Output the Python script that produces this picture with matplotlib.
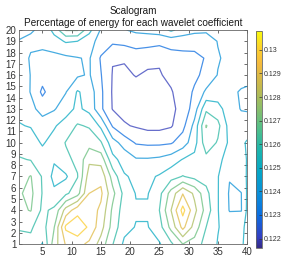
import numpy as np
import matplotlib.pyplot as plt
from matplotlib.colors import LinearSegmentedColormap, Normalize
import matplotlib.cm as cm

plt.rcParams['font.family'] = ['Liberation Sans', 'DejaVu Sans']

# wavelet coefficient index (x) and scale (y) where the energy was read
x_coef = [1, 3, 5, 7, 9, 11, 13, 15, 17, 19, 21, 23, 25, 27, 29, 31, 33, 35, 37, 39, 40]
y_scale = [20, 19, 17.5, 16, 14.5, 13, 11.5, 10, 8.5, 7, 5.5, 4, 2.5, 1]

# percentage of energy, rows follow y_scale (top to bottom)
energy = [
    [0.1237, 0.1239, 0.1242, 0.1253, 0.1271, 0.1271, 0.1253, 0.1239, 0.1237, 0.12395, 0.1242, 0.1243, 0.1245, 0.1252, 0.1246, 0.1243, 0.1242, 0.1243, 0.1244, 0.1244, 0.1244],
    [0.12405, 0.1242, 0.1243, 0.1246, 0.1251, 0.1250, 0.1244, 0.1236, 0.1232, 0.1233, 0.1234, 0.1234, 0.1233, 0.1234, 0.1234, 0.1233, 0.1234, 0.12405, 0.1243, 0.1244, 0.1244],
    [0.1245, 0.1239, 0.1237, 0.1237, 0.1238, 0.12395, 0.1241, 0.1229, 0.12205, 0.1221, 0.1225, 0.1223, 0.12215, 0.1226, 0.1227, 0.1228, 0.12305, 0.1239, 0.1243, 0.1244, 0.1244],
    [0.12502, 0.12395, 0.1234, 0.1235, 0.1237, 0.12385, 0.1241, 0.12305, 0.12195, 0.1218, 0.12205, 0.12185, 0.1219, 0.1223, 0.1226, 0.12285, 0.1232, 0.12405, 0.1243, 0.1244, 0.1244],
    [0.1247, 0.12395, 0.1228, 0.1236, 0.12395, 0.1251, 0.1246, 0.1232, 0.1219, 0.1217, 0.1216, 0.1216, 0.1217, 0.1219, 0.1226, 0.1231, 0.1242, 0.1244, 0.12425, 0.1239, 0.1238],
    [0.1248, 0.1243, 0.1236, 0.1239, 0.1246, 0.1252, 0.1247, 0.1232, 0.12195, 0.1217, 0.1216, 0.1216, 0.12165, 0.1218, 0.1223, 0.1235, 0.1258, 0.1254, 0.1244, 0.12395, 0.1239],
    [0.12505, 0.12495, 0.1245, 0.1249, 0.1254, 0.1261, 0.1259, 0.1248, 0.1229, 0.1221, 0.1219, 0.1217, 0.1217, 0.1219, 0.1227, 0.1243, 0.12705, 0.1263, 0.1246, 0.1244, 0.1245],
    [0.1255, 0.1254, 0.1249, 0.12535, 0.12605, 0.1270, 0.1266, 0.1261, 0.1244, 0.1236, 0.1229, 0.1228, 0.1228, 0.1229, 0.1235, 0.1246, 0.1266, 0.1259, 0.1248, 0.1248, 0.1251],
    [0.1261, 0.12595, 0.1254, 0.1251, 0.1258, 0.1262, 0.1278, 0.1276, 0.1253, 0.1246, 0.1241, 0.1241, 0.1242, 0.1245, 0.12505, 0.1253, 0.1257, 0.1253, 0.1245, 0.1246, 0.12505],
    [0.1266, 0.12705, 0.1259, 0.1247, 0.12485, 0.12595, 0.1285, 0.1287, 0.1266, 0.1251, 0.1248, 0.1248, 0.1251, 0.1256, 0.12605, 0.1257, 0.1256, 0.12505, 0.12405, 0.1244, 0.1251],
    [0.1269, 0.12725, 0.12595, 0.1252, 0.1258, 0.1266, 0.1290, 0.1292, 0.1273, 0.1257, 0.12495, 0.12495, 0.1257, 0.1274, 0.12895, 0.1278, 0.1263, 0.12505, 0.1239, 0.12398, 0.1251],
    [0.1268, 0.12705, 0.1258, 0.1262, 0.1284, 0.1296, 0.1295, 0.1288, 0.1268, 0.1255, 0.1251, 0.1251, 0.1260, 0.1280, 0.13035, 0.1283, 0.1266, 0.12505, 0.12395, 0.12395, 0.12515],
    [0.12605, 0.1261, 0.1256, 0.12695, 0.1302, 0.1308, 0.1298, 0.1284, 0.1266, 0.1253, 0.12495, 0.12495, 0.1256, 0.1273, 0.1293, 0.1276, 0.1260, 0.12505, 0.1246, 0.1249, 0.1251],
    [0.1258, 0.1258, 0.12495, 0.1275, 0.1291, 0.1293, 0.1288, 0.1276, 0.12605, 0.1248, 0.1247, 0.1247, 0.1249, 0.1258, 0.1270, 0.1266, 0.1256, 0.12495, 0.1245, 0.12495, 0.1251],
]

levels = [0.122, 0.123, 0.124, 0.125, 0.126, 0.127, 0.128, 0.129, 0.130]

# approximation of MATLAB's parula colormap
parula = LinearSegmentedColormap.from_list("parula", [
    (0.00, (0.208, 0.166, 0.529)),
    (0.05, (0.200, 0.250, 0.760)),
    (0.15, (0.045, 0.430, 0.880)),
    (0.25, (0.040, 0.560, 0.850)),
    (0.35, (0.020, 0.650, 0.780)),
    (0.45, (0.110, 0.710, 0.680)),
    (0.55, (0.320, 0.750, 0.540)),
    (0.65, (0.560, 0.745, 0.410)),
    (0.75, (0.780, 0.725, 0.300)),
    (0.85, (0.960, 0.730, 0.240)),
    (0.92, (0.990, 0.810, 0.180)),
    (1.00, (0.976, 0.983, 0.054)),
])

Z = np.array(energy)[::-1]
y = np.array(y_scale)[::-1]
norm = Normalize(Z.min(), Z.max())

fig = plt.figure(figsize=(2.84, 2.63), dpi=100)
ax = fig.add_axes([0.067, 0.072, 0.803, 0.814])
ax.contour(x_coef, y, Z, levels=levels, cmap=parula, norm=norm,
           linewidths=0.9, alpha=0.75)
ax.set_xlim(1, 40)
ax.set_ylim(1, 20)
ax.set_xticks(range(5, 41, 5))
ax.set_yticks(range(1, 21))
ax.tick_params(direction='in', length=2, width=0.5, labelsize=7,
               top=True, right=True, colors='0.2', pad=2)
for s in ax.spines.values():
    s.set_linewidth(0.6)
    s.set_color('0.4')
ax.set_title("Scalogram\nPercentage of energy for each wavelet coefficient",
             fontsize=7.2, pad=3, color='0.1')

cax = fig.add_axes([0.901, 0.057, 0.021, 0.825])
cb = fig.colorbar(cm.ScalarMappable(norm=norm, cmap=parula), cax=cax, ticks=levels)
cb.ax.set_yticklabels([f"{t:g}" for t in levels])
cb.ax.tick_params(direction='in', length=2, width=0.5, labelsize=5, colors='0.2', pad=1.5)
cb.outline.set_linewidth(0.6)
cb.outline.set_edgecolor('0.4')

fig.savefig('out.png', dpi=100)
